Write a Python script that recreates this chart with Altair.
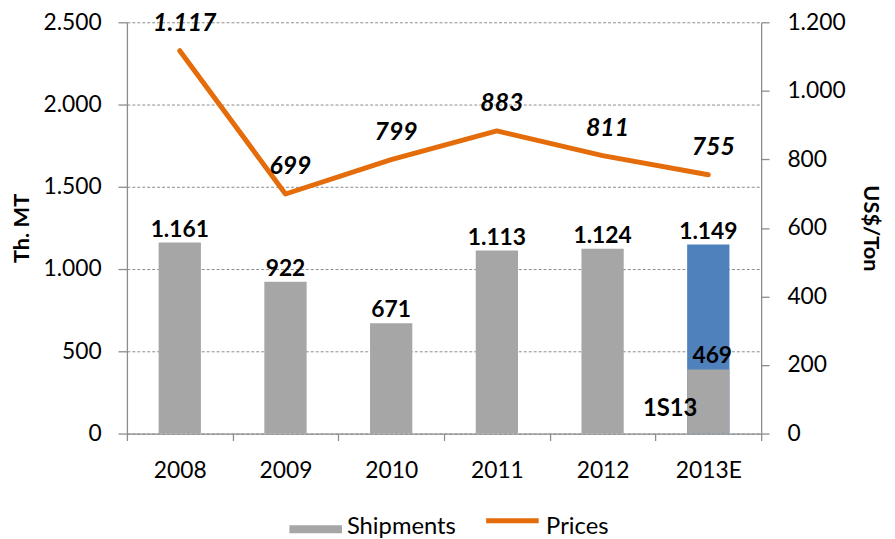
import altair as alt
import pandas as pd

# ---- data ----
years = ["2008", "2009", "2010", "2011", "2012", "2013E"]
shipments = [1161, 922, 671, 1113, 1124, 1149]
prices = [1117, 699, 799, 883, 811, 755]
half_year = "2013E"
half_bar = 390          # drawn height of the 1S13 part (as pictured)
half_label = "469"      # label printed on it
half_name = "1S13"

FONT = "Lato"
GRAY = "#A6A6A6"
BLUE = "#4F81BD"
ORANGE = "#E46C0A"
AXIS_GRAY = "#8C8C8C"

gray_vals = shipments[:-1] + [half_bar]
bars_df = pd.DataFrame({"year": years, "value": gray_vals, "series": "Shipments"})
total_df = pd.DataFrame({"year": years, "value": shipments})
est_df = pd.DataFrame({"year": [years[-1]], "value": [shipments[-1]]})
half_df = pd.DataFrame({"year": [half_year], "value": [half_bar],
                        "label": [half_label], "name": [half_name]})
price_df = pd.DataFrame({"year": years, "price": prices, "series": "Prices"})

dot_fmt = "replace(format(datum.value, ','), ',', '.')"

x = alt.X(
    "year:N", sort=years,
    scale=alt.Scale(paddingInner=0, paddingOuter=0),
    axis=alt.Axis(title=None, labelAngle=0, tickBand="extent", tickSize=7,
                  labelPadding=19, labelFont=FONT, labelFontSize=23,
                  labelColor="black", grid=False),
)

left_scale = alt.Scale(domain=[0, 2500], nice=False, zero=True)
left_axis = alt.Axis(values=[0, 500, 1000, 1500, 2000, 2500], labelExpr=dot_fmt,
                     title="Th. MT", titleFont=FONT, titleFontSize=22,
                     titleFontWeight="bold", titleColor="black", titlePadding=10,
                     labelFont=FONT, labelFontSize=23, labelColor="black",
                     tickSize=9, labelPadding=17, grid=True,
                     gridDash=[3, 2], gridColor=AXIS_GRAY, gridWidth=1)
y_left = alt.Y("value:Q", scale=left_scale, axis=left_axis)

right_scale = alt.Scale(domain=[0, 1200], nice=False, zero=True)
right_axis = alt.Axis(orient="right", values=[0, 200, 400, 600, 800, 1000, 1200],
                      labelExpr=dot_fmt, title="US$/Ton", titleFont=FONT,
                      titleFontSize=22, titleFontWeight="bold", titleColor="black",
                      titlePadding=14, labelFont=FONT, labelFontSize=23,
                      labelColor="black", tickSize=8, labelPadding=18, grid=False)
y_right = alt.Y("price:Q", scale=right_scale, axis=right_axis)

legend_common = dict(title=None, orient="none", direction="horizontal", padding=0,
                     labelFont=FONT, labelFontSize=24, labelColor="black",
                     labelOffset=5, symbolSize=2809)

fill = alt.Fill("series:N", scale=alt.Scale(domain=["Shipments"], range=[GRAY]),
                legend=alt.Legend(symbolType="M-1,-0.07H1V0.23H-1Z",
                                  symbolStrokeWidth=0, symbolOpacity=1,
                                  symbolFillColor=GRAY, legendX=164, legendY=483,
                                  **legend_common))
stroke = alt.Stroke("series:N", scale=alt.Scale(domain=["Prices"], range=[ORANGE]),
                    legend=alt.Legend(symbolType="M-1,-0.23H1",
                                      symbolStrokeWidth=5, symbolOpacity=1,
                                      legendX=360, legendY=480, **legend_common))

bar_w = alt.RelativeBandSize(0.4)
blue = alt.Chart(est_df).mark_bar(color=BLUE, width=bar_w).encode(x=x, y=y_left)
gray = alt.Chart(bars_df).mark_bar(width=bar_w).encode(x=x, y=y_left, fill=fill)

ship_labels = alt.Chart(total_df).transform_calculate(
    label=dot_fmt
).mark_text(font=FONT, fontSize=23, fontWeight="bold", color="black",
            baseline="alphabetic", dy=-6).encode(x=x, y=y_left, text="label:N")

half_text = alt.Chart(half_df).mark_text(
    font=FONT, fontSize=23, fontWeight="bold", color="black",
    baseline="alphabetic", dy=-6, dx=4).encode(x=x, y=y_left, text="label:N")

half_name_text = alt.Chart(half_df).transform_calculate(
    mid="datum.value / 2"
).mark_text(font=FONT, fontSize=24, fontWeight="bold", color="black",
            align="right", baseline="middle", dx=-11, dy=8).encode(
    x=x, y=alt.Y("mid:Q", scale=left_scale, axis=left_axis), text="name:N")

left = alt.layer(blue, gray, ship_labels, half_text, half_name_text)

line = alt.Chart(price_df).mark_line(strokeWidth=5, strokeCap="round",
                                     strokeJoin="round").encode(
    x=x, y=y_right, stroke=stroke)
price_labels = alt.Chart(price_df).transform_calculate(
    label="replace(format(datum.price, ','), ',', '.')"
).mark_text(font=FONT, fontSize=25, fontWeight="bold", fontStyle="italic",
            color="black", baseline="alphabetic", dy=-20, dx=5).encode(
    x=x, y=y_right, text="label:N")

right = alt.layer(line, price_labels)

chart = alt.layer(left, right).resolve_scale(y="independent").properties(
    width=640, height=415,
    autosize=alt.AutoSizeParams(type="none"),
    padding={"left": 120, "top": 12, "right": 127, "bottom": 104},
    background="white",
).configure_view(stroke=None).configure_axis(
    domainColor=AXIS_GRAY, tickColor=AXIS_GRAY, domainWidth=1.3, tickWidth=1.3
)

chart.save("out.html", embed_options={"renderer": "svg", "actions": False})
